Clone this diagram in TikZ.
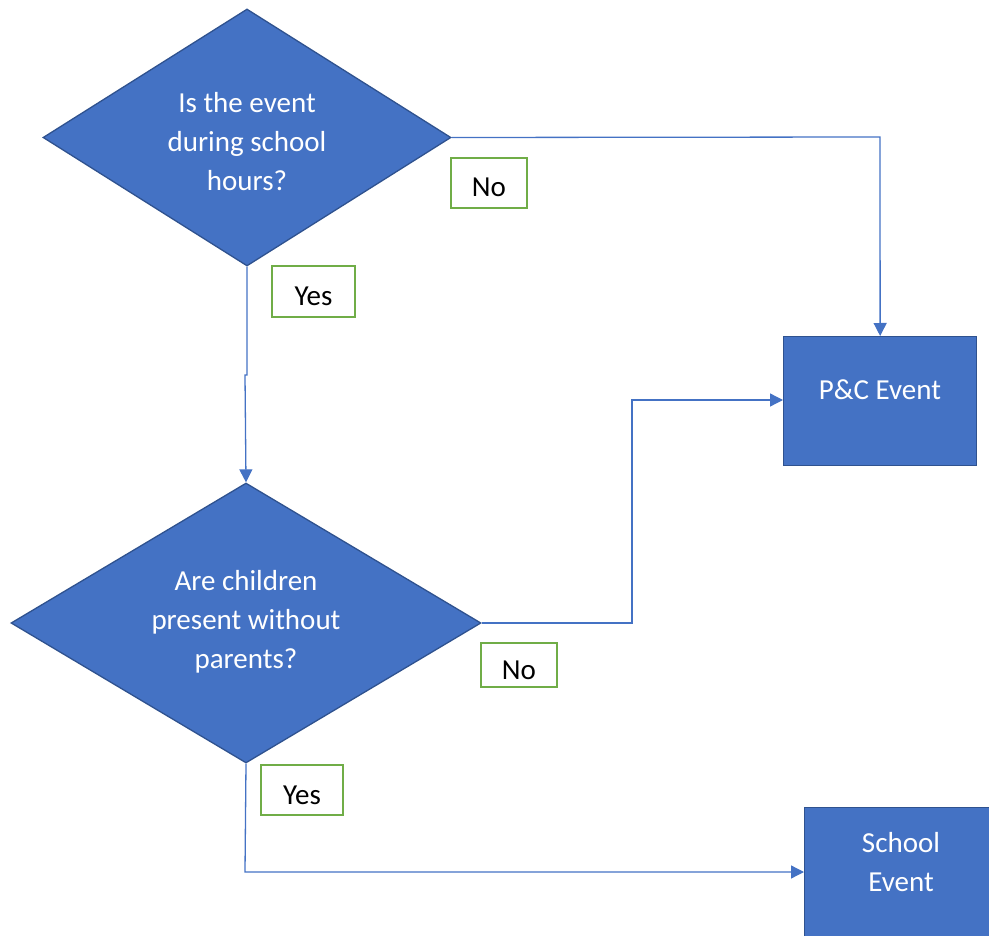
\documentclass[tikz,border=0pt]{standalone}
\usepackage{fontspec}
\setmainfont{Carlito}
\usetikzlibrary{shapes.geometric,arrows.meta}
\definecolor{blueA}{HTML}{4472C4}
\definecolor{blueB}{HTML}{2F528F}
\definecolor{greenA}{HTML}{70AD47}
\tikzset{
  decision/.style={diamond,draw=blueB,fill=blueA,line width=1.3pt,inner sep=0pt},
  procbox/.style={rectangle,draw=blueB,fill=blueA,line width=1.3pt,anchor=north west},
  wtext/.style={text=white,font=\fontsize{29}{39}\selectfont,align=center,inner sep=0pt},
  tag/.style={draw=greenA,line width=2pt,fill=white,font=\fontsize{29}{35}\selectfont,inner sep=0pt,text height=28pt,text depth=0pt,anchor=north west},
  conn/.style={draw=blueA,line width=1.3pt},
  arr/.style={conn,-{Triangle[length=13pt,width=13pt]}}
}
\begin{document}
\begin{tikzpicture}[x=1pt,y=-1pt]
\useasboundingbox (0,0) rectangle (989,936);
% decisions
\node[decision,minimum width=408pt,minimum height=257pt] (d1) at (247,137.5) {};
\node[wtext] (d1t) at (247,142) {Is the event\\during school\\hours?};
\node[decision,minimum width=470pt,minimum height=280pt] (d2) at (246,623) {};
\node[wtext] (d2t) at (246,622) {Are children\\present without\\parents?};
% boxes
\node[procbox,minimum width=193pt,minimum height=129pt] (pc) at (783,336) {};
\node[wtext] (pct) at (880,390) {P\&C Event};
\node[procbox,minimum width=195pt,minimum height=135pt] (se) at (804,807) {};
\node[wtext] (set) at (901,862) {School\\Event};
% connectors
\coordinate (c1) at (880,137);
\draw[arr] (d1.east) -- (c1) -- (pc.north);
\coordinate (c2a) at (247,375);
\coordinate (c2b) at (245,375);
\draw[arr] (d1.south) -- (c2a) -- (c2b) -- (d2.north);
\coordinate (c3a) at (632,623);
\coordinate (c3b) at (632,400);
\coordinate (pcw) at (783,400);
\draw[arr] (d2.east) -- (c3a) -- (c3b) -- (pcw);
\coordinate (c4) at (245,872);
\coordinate (sew) at (804,872);
\draw[arr] (d2.south) -- (c4) -- (sew);
% tags
\node[tag,minimum width=76pt,minimum height=50pt] (no1) at (450,157) {No};
\node[tag,minimum width=83pt,minimum height=51pt] (yes1) at (271,265) {Yes};
\node[tag,minimum width=76pt,minimum height=44pt] (no2) at (480,642) {No};
\node[tag,minimum width=82pt,minimum height=50pt] (yes2) at (260,764) {Yes};
\end{tikzpicture}
\end{document}
